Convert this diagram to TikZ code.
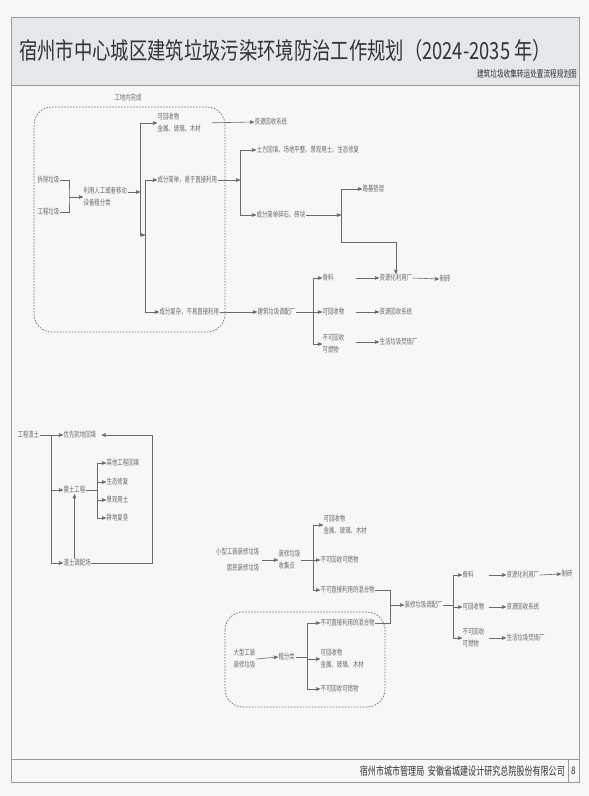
\documentclass[tikz,border=0pt]{standalone}
\usepackage{fontspec}
\newfontfamily\cjk[FakeStretch=0.78]{Noto Sans CJK SC}
\newfontfamily\cjknarrow[FakeStretch=0.7]{Noto Sans CJK SC}
\usetikzlibrary{arrows}
\definecolor{pagebg}{HTML}{F7F7F7}
\definecolor{bandbg}{HTML}{E3E8EA}
\definecolor{framegray}{HTML}{9A9A9A}
\definecolor{inkgray}{HTML}{6A6A6A}
\definecolor{titleink}{HTML}{333333}
\tikzstyle{item}=[anchor=west,align=left,inner sep=0.5pt,text=inkgray,font=\cjknarrow\fontsize{7.7}{12}\selectfont]
\tikzstyle{itemr}=[item,anchor=east,align=right]
\tikzstyle{flow} = [draw,->,>=stealth',inkgray,line width=0.6pt]
\tikzstyle{link} = [draw,inkgray,line width=0.6pt]
\tikzstyle{zone} = [draw,inkgray,line width=0.7pt,dash pattern=on 1.6pt off 1.4pt,rounded corners=18pt]

\begin{document}
\begin{tikzpicture}[x=1pt,y=-1pt]
	\useasboundingbox (0,0) rectangle (589,796);
	% Page, title band and footer
	\fill[pagebg] (0,0) rectangle (589,796);
	\draw[framegray,fill=bandbg,line width=0.8pt] (11,17) rectangle (579,85);
	\draw[framegray,line width=0.8pt] (11,85) rectangle (579,782);
	\draw[framegray,line width=0.8pt] (11,759) -- (579,759);
	\draw[framegray,line width=0.8pt] (568,759) -- (568,782);
	\node[anchor=west,inner sep=0pt,text=titleink,font=\cjk\fontsize{23.5}{24}\selectfont] (title) at (19,51) {宿州市中心城区建筑垃圾污染环境防治工作规划（2024-2035 年）};
	\node[anchor=east,inner sep=0pt,text=titleink,font=\cjknarrow\fontsize{9.5}{10}\selectfont] (subtitle) at (577,74) {建筑垃圾收集转运处置流程规划图};
	\node[anchor=east,inner sep=0pt,text=titleink,font=\cjknarrow\fontsize{11.5}{12}\selectfont] (footer) at (565,771) {宿州市城市管理局\ \ 安徽省城建设计研究总院股份有限公司};
	\node[inner sep=0pt,text=titleink,font=\cjk\fontsize{10.5}{11}\selectfont] (page) at (573.5,771) {8};

	% First we draw the labels of the demolition flow
	\foreach \pos/\name/\txt in {{(37,180)/chai/拆除垃圾}, {(37,212)/gongcheng/工程垃圾},
		{(83,197)/fenlei/{利用人工或者移动\\设备粗分类}}, {(157,123)/kehui1/{可回收物\\金属、玻璃、木材}},
		{(157,180)/jiandan/成分简单，易于直接利用}, {(159,312)/fuza/成分复杂，不易直接利用},
		{(254,122)/ziyuan1/资源回收系统}, {(256,150)/tufang/土方回填、场地平整、景观用土、生态修复},
		{(256,215)/suishi/成分简单碎石、砖块}, {(362,189)/luji/路基垫层},
		{(257,312)/tiaopei1/建筑垃圾调配厂}, {(322,278)/guliao1/骨料}, {(322,312)/kehui2/可回收物},
		{(322,344)/buke1/{不可回收\\可燃物}}, {(379,278)/ziyuanhua1/资源化利用厂},
		{(379,312)/ziyuan2/资源回收系统}, {(379,342)/fenshao1/生活垃圾焚烧厂}, {(439,279)/zhizhuan1/制砖}}
	\node[item] (\name) at \pos {\txt};
	\node[item,anchor=center] (site) at (128,98) {工地内完成};
	\draw[zone] (34,107) rectangle (225,332);

	% Connect the demolition flow
	\coordinate (b1) at (69,197);
	\coordinate (s1) at (140,192);
	\coordinate (s1b) at (140,235);
	\coordinate (s2) at (145,235);
	\coordinate (s3) at (240,180);
	\coordinate (s4) at (341,215);
	\coordinate (s5) at (341,242);
	\coordinate (s6) at (313,312);
	\draw[link] (chai.east) -| (b1) |- (gongcheng.east);
	\draw[flow] (b1) -- (fenlei.west);
	\draw[flow] (fenlei.east |- s1) -- (s1);
	\draw[flow] (s1) |- (kehui1.west);
	\draw[flow] (s1) -- (s1b) -- (s2);
	\foreach \dest in {jiandan, fuza}
	\draw[flow] (s2) |- (\dest.west);
	\draw[flow,shorten <=10pt] (kehui1.east) -- (ziyuan1.west);
	\draw[flow] (jiandan.east) -- (s3);
	\foreach \dest in {tufang, suishi}
	\draw[flow] (s3) |- (\dest.west);
	\draw[flow] (suishi.east) -- (s4);
	\draw[flow] (s4) |- (luji.west);
	\draw[flow] (s4) -- (s5) -| (ziyuanhua1.north);
	\draw[flow] (fuza.east) -- (tiaopei1.west);
	\draw[link] (tiaopei1.east) -- (s6);
	\foreach \dest in {guliao1, kehui2, buke1}
	\draw[flow] (s6) |- (\dest.west);
	\foreach \dest in {ziyuanhua1, ziyuan2, fenshao1}
	\draw[flow] ([xshift=-23pt]\dest.west) -- (\dest.west);
	\draw[flow] (ziyuanhua1.east) -- (zhizhuan1.west);

	% Muck soil flow
	\foreach \pos/\name/\txt in {{(17,435)/zhatu/工程渣土}, {(63,435)/youxian/优先就地回填},
		{(63,490)/xutu/需土工程}, {(63,563)/diaopei/渣土调配场}, {(106,463)/qita/其他工程回填},
		{(106,482)/shengtai/生态修复}, {(106,500)/jingguan/景观用土}, {(106,518)/gengdi/耕地复垦}}
	\node[item] (\name) at \pos {\txt};
	\coordinate (t1) at (51,435);
	\coordinate (t2) at (97,490);
	\coordinate (t3) at (152,563);
	\draw[flow] (zhatu.east) -- (youxian.west);
	\foreach \dest in {xutu, diaopei}
	\draw[flow] (t1) |- (\dest.west);
	\draw[link] (xutu.east) -- (t2);
	\foreach \dest in {qita, shengtai, jingguan, gengdi}
	\draw[flow] (t2) |- (\dest.west);
	\draw[flow] (diaopei.north -| xutu.south) -- (xutu.south);
	\draw[flow,shorten >=5pt] (diaopei.east) -- (t3) |- (youxian.east);

	% Decoration waste flow
	\foreach \pos/\name/\txt in {{(323,525)/kehui3/{可回收物\\金属、玻璃、木材}}, {(320,560)/bukehui3/不可回收可燃物},
		{(320,590)/hunhe1/不可直接利用的混合物}, {(278,560)/shouji/{装修垃圾\\收集点}},
		{(233,659)/daxing/{大型工装\\装修垃圾}}, {(278,657)/cufen/粗分类},
		{(320,623)/hunhe2/不可直接利用的混合物}, {(320,659)/kehui4/{可回收物\\金属、玻璃、木材}},
		{(320,689)/bukehui4/不可回收可燃物}, {(404,605)/tiaopei2/装修垃圾调配厂},
		{(462,575)/guliao2/骨料}, {(462,607)/kehui5/可回收物}, {(462,638)/buke2/{不可回收\\可燃物}},
		{(506,575)/ziyuanhua2/资源化利用厂}, {(506,607)/ziyuan3/资源回收系统},
		{(506,638)/fenshao2/生活垃圾焚烧厂}, {(561,574)/zhizhuan2/制砖}}
	\node[item] (\name) at \pos {\txt};
	\foreach \pos/\name/\txt in {{(260,552)/xiaoxing/小型工装装修垃圾}, {(260,568)/jumin/居民装修垃圾}}
	\node[itemr] (\name) at \pos {\txt};
	\draw[zone] (225,612) rectangle (385,707);
	\coordinate (u1) at (313,560);
	\coordinate (u2) at (390,605);
	\coordinate (u3) at (307,657);
	\coordinate (u4) at (453,605);
	\draw[flow] ([xshift=-16pt]shouji.west) -- (shouji.west);
	\draw[link] (shouji.east) -- (u1);
	\foreach \dest in {kehui3, bukehui3, hunhe1}
	\draw[flow] (u1) |- (\dest.west);
	\draw[link] (hunhe1.east) -| (u2);
	\draw[link] (hunhe2.east) -| (u2);
	\draw[flow] (u2) -- (tiaopei2.west);
	\draw[flow] (daxing.east) -- (cufen.west);
	\draw[link] (cufen.east) -- (u3);
	\foreach \dest in {hunhe2, kehui4, bukehui4}
	\draw[flow] (u3) |- (\dest.west);
	\draw[link] (tiaopei2.east) -- (u4);
	\foreach \dest in {guliao2, kehui5, buke2}
	\draw[flow] (u4) |- (\dest.west);
	\foreach \dest in {ziyuanhua2, ziyuan3, fenshao2}
	\draw[flow] ([xshift=-17pt]\dest.west) -- (\dest.west);
	\draw[flow] (ziyuanhua2.east) -- (zhizhuan2.west);
\end{tikzpicture}
\end{document}
